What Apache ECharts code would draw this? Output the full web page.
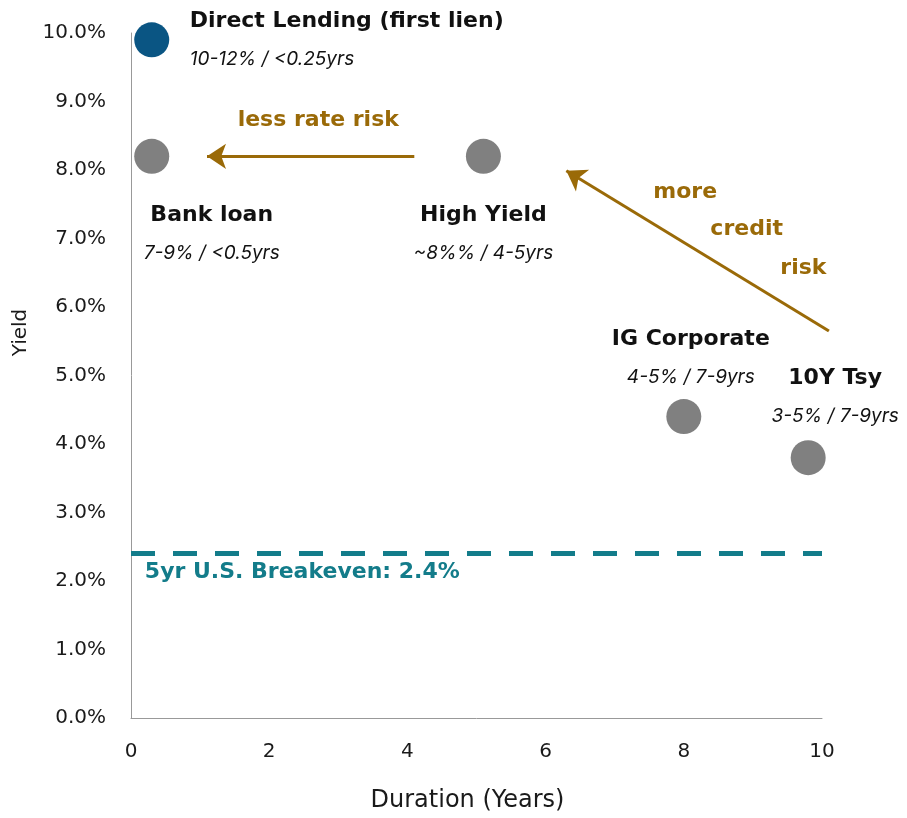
<!DOCTYPE html>
<html>
<head>
<meta charset="utf-8">
<script src="https://cdn.jsdelivr.net/npm/echarts@6/dist/echarts.min.js"></script>
<style>
  html, body { margin: 0; padding: 0; background: #fff; }
  #chart { width: 907px; height: 818px; }
</style>
</head>
<body>
<div id="chart"></div>
<script>
// Asset classes: duration (years) vs yield (%)
const assetNames = ['Direct Lending (first lien)', 'Bank loan', 'High Yield', 'IG Corporate', '10Y Tsy'];
const assetRanges = ['10-12% / <0.25yrs', '7-9% / <0.5yrs', '~8%% / 4-5yrs', '4-5% / 7-9yrs', '3-5% / 7-9yrs'];
const durationYears = [0.3, 0.3, 5.1, 8.0, 9.8];
const yieldPct = [9.9, 8.2, 8.2, 4.4, 3.8];

// Reference level
const breakevenLabel = '5yr U.S. Breakeven: 2.4%';
const breakevenPct = 2.4;

// Direction arrows (data coordinates: [duration, yield])
const rateRiskArrow = [[4.1, 8.2], [1.1, 8.2]];
const creditRiskArrow = [[10.1, 5.65], [6.3, 7.99]];

// Free-standing notes, anchored in data coordinates
const noteTexts = ['less rate risk', 'more', 'credit', 'risk', breakevenLabel];
const noteAnchors = [[2.71, 8.72], [8.02, 7.67], [8.91, 7.13], [9.73, 6.57], [0.2, 2.13]];

const xTickValues = [0, 2, 4, 6, 8, 10];

const BOLD_FONT = 'DejaVu Sans';
const TICK_FONT = 'DejaVu Sans';
const ITALIC_FONT = 'Inter';
const INK = '#111';
const GOLD = '#9a6a08';
const TEAL = '#137c8a';
const BLUE = '#0a5583';
const GREY = '#808080';

// label placement for each asset (pixel offsets from the dot centre)
const labelLayout = [
  { offset: [38, 0], align: 'left' },
  { offset: [60, 78], align: 'center' },
  { offset: [0, 78], align: 'center' },
  { offset: [7, -58], align: 'center' },
  { offset: [27, -60], align: 'center' }
];

const assetData = durationYears.map((d, i) => ({
  value: [d, yieldPct[i]],
  name: assetNames[i],
  itemStyle: { color: i === 0 ? BLUE : GREY, opacity: 1 },
  label: {
    show: true,
    position: 'inside',
    offset: labelLayout[i].offset,
    align: labelLayout[i].align,
    verticalAlign: 'middle',
    formatter: '{t|' + assetNames[i] + '}\n{s|' + assetRanges[i] + '}',
    rich: {
      t: { fontFamily: BOLD_FONT, fontWeight: 'bold', fontSize: 22, color: INK, lineHeight: 38, align: labelLayout[i].align },
      s: { fontFamily: ITALIC_FONT, fontStyle: 'italic', fontSize: 19, color: INK, lineHeight: 38, align: labelLayout[i].align }
    }
  }
}));

const noteData = noteTexts.map((t, i) => {
  const isBreakeven = t === breakevenLabel;
  return {
    value: noteAnchors[i],
    itemStyle: { opacity: 1 },
    label: {
      show: true,
      position: 'inside',
      formatter: t,
      align: isBreakeven ? 'left' : 'center',
      verticalAlign: 'middle',
      fontFamily: BOLD_FONT,
      fontWeight: 'bold',
      fontSize: 22,
      color: isBreakeven ? TEAL : GOLD
    }
  };
});

const chart = echarts.init(document.getElementById('chart'), null, { renderer: 'canvas' });

chart.setOption({
  animation: false,
  backgroundColor: '#fff',
  grid: { left: 131, right: 85, top: 33, bottom: 95 },
  xAxis: {
    type: 'value',
    min: 0, max: 10, interval: 2,
    name: 'Duration (Years)',
    nameLocation: 'middle',
    nameGap: 71,
    nameTextStyle: { fontFamily: TICK_FONT, fontSize: 24, color: '#1a1a1a', padding: [0, 18, 0, 0] },
    axisLine: { show: true, lineStyle: { color: '#999', width: 1 } },
    axisTick: { show: false },
    splitLine: { show: false },
    axisLabel: {
      fontFamily: TICK_FONT, fontSize: 20, color: '#1a1a1a', margin: 24,
      formatter: v => (xTickValues.indexOf(v) >= 0 ? String(v) : '')
    }
  },
  yAxis: {
    type: 'value',
    min: 0, max: 10, interval: 1,
    name: 'Yield',
    nameLocation: 'middle',
    nameGap: 100,
    nameTextStyle: { fontFamily: TICK_FONT, fontSize: 20, color: '#1a1a1a', padding: [0, 0, 0, 86] },
    axisLine: { show: true, lineStyle: { color: '#999', width: 1 } },
    axisTick: { show: false },
    splitLine: { show: false },
    axisLabel: {
      fontFamily: TICK_FONT, fontSize: 20, color: '#1a1a1a', margin: 25,
      formatter: v => v.toFixed(1) + '%'
    }
  },
  series: [
    {
      name: 'breakeven',
      type: 'line',
      data: [],
      silent: true,
      markLine: {
        silent: true,
        symbol: 'none',
        label: { show: false },
        lineStyle: { color: TEAL, width: 5, type: [24, 18], opacity: 1 },
        data: [{ yAxis: breakevenPct }]
      }
    },
    {
      name: 'arrows',
      type: 'lines',
      coordinateSystem: 'cartesian2d',
      clip: false,
      silent: true,
      symbol: ['none', 'arrow'],
      symbolSize: 19,
      lineStyle: { color: GOLD, width: 3, opacity: 1 },
      data: [{ coords: rateRiskArrow }, { coords: creditRiskArrow }]
    },
    {
      name: 'assets',
      type: 'scatter',
      symbol: 'circle',
      symbolSize: 35,
      itemStyle: { opacity: 1 },
      data: assetData,
      z: 5
    },
    {
      name: 'notes',
      type: 'scatter',
      symbolSize: 0,
      silent: true,
      itemStyle: { opacity: 1 },
      data: noteData,
      z: 6
    }
  ]
});
</script>
</body>
</html>
